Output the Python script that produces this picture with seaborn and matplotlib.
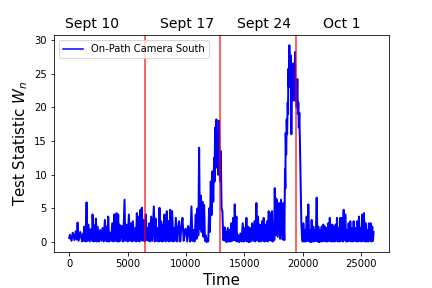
import matplotlib
matplotlib.use("Agg")
import matplotlib.pyplot as plt
import pandas as pd
import seaborn as sns

# ---------------------------------------------
# Data (peaks / troughs)
# ---------------------------------------------
t_a = [0, 60, 200, 300, 450, 550, 650, 715, 800, 950,
       1100, 1200, 1250, 1285, 1400, 1485, 1550, 1650, 1750, 1850,
       1950, 1997, 2100, 2150, 2230, 2283, 2350, 2430, 2550, 2650,
       2750, 2850, 2950, 3052, 3150, 3200, 3280, 3337, 3420, 3500,
       3600, 3680, 3780, 3850, 3950, 4050, 4120, 4190]
w_a = [0.6, 1.1, 0.2, 1.4, 0.3, 1.6, 0.4, 2.9, 0.2, 1.5,
       0.1, 1.3, 0.2, 2.3, 0.1, 5.9, 0.2, 2.6, 0.1, 1.9,
       0.2, 4.1, 0.1, 2.5, 0.2, 3.5, 0.1, 2.3, 0.1, 1.8,
       0.2, 2.1, 0.1, 3.3, 0.2, 2.3, 0.1, 3.8, 0.1, 1.4,
       0.2, 2.8, 0.1, 4.1, 0.2, 4.3, 0.1, 4.1]

t_b = [4250, 4300, 4400, 4500, 4620, 4734, 4800, 4900, 5000, 5105,
       5200, 5300, 5380, 5447, 5550, 5650, 5720, 5789, 5870, 5930,
       6020, 6102, 6160, 6216, 6300, 6400, 6480, 6558, 6620, 6680,
       6780, 6850, 6930, 7014, 7120, 7242, 7330, 7390, 7480, 7580,
       7650, 7727, 7810, 7870, 7960, 8010, 8080, 8154, 8250, 8354,
       8420, 8500, 8570, 8639, 8720, 8810]
w_b = [0.1, 2.6, 0.2, 2.4, 0.1, 6.3, 0.2, 2.6, 0.1, 4.1,
       0.2, 2.8, 0.1, 3.1, 0.2, 2.1, 0.1, 4.3, 0.2, 3.8,
       0.1, 4.8, 0.3, 5.1, 0.2, 3.3, 0.1, 4.1, 0.3, 2.1,
       0.2, 2.8, 0.1, 3.8, 0.2, 5.3, 0.1, 3.5, 0.2, 2.1,
       0.1, 5.1, 0.2, 3.1, 0.1, 2.6, 0.2, 4.1, 0.1, 4.6,
       0.2, 3.1, 0.1, 4.8, 0.2, 4.6]

t_c = [8900, 8950, 9050, 9122, 9250, 9320, 9407, 9500, 9600, 9692,
       9800, 9900, 9977, 10100, 10180, 10262, 10350, 10462, 10550, 10633,
       10720, 10832, 10900, 10975, 11050, 11117, 11180, 11260, 11330, 11402,
       11470, 11545, 11620, 11687, 11760, 11830, 11900, 11972, 12040, 12115,
       12180, 12257, 12330, 12400, 12440, 12485, 12540, 12600, 12640, 12685,
       12750, 12827, 12900, 12970, 13040, 13112, 13180, 13255]
w_c = [0.1, 2.1, 0.2, 3.6, 0.1, 2.0, 3.1, 0.1, 2.2, 3.6,
       0.2, 1.8, 2.0, 0.1, 2.4, 1.6, 0.1, 5.3, 0.2, 1.8,
       0.1, 4.1, 0.5, 5.0, 1.0, 14.0, 2.0, 6.9, 1.5, 6.0,
       0.8, 5.5, 0.2, 1.0, 0.0, 0.5, 0.1, 5.0, 1.5, 9.0,
       4.0, 10.5, 6.0, 12.5, 9.0, 17.0, 11.0, 18.2, 12.0, 16.0,
       10.0, 18.0, 9.0, 13.5, 5.0, 4.6, 0.3, 0.8]

t_d = [13300, 13335, 13370, 13470, 13569, 13650, 13740, 13800, 13854, 13940,
       14025, 14100, 14167, 14240, 14310, 14370, 14424, 14540, 14652, 14750,
       14851, 14940, 15022, 15090, 15165, 15240, 15307, 15380, 15450, 15550,
       15650, 15750, 15849, 15930, 16020, 16090, 16162, 16230, 16305, 16400,
       16504, 16580, 16647, 16720, 16790, 16860, 16932, 17000, 17075, 17150,
       17217, 17290, 17360, 17430, 17502, 17550, 17590, 17650, 17700, 17730]
w_d = [2.2, 0.2, 1.6, 0.0, 2.1, 0.1, 1.8, 0.1, 2.8, 0.2,
       3.6, 0.3, 5.6, 0.2, 3.8, 0.1, 1.1, 0.0, 1.3, 0.1,
       2.8, 0.1, 2.1, 0.2, 3.6, 0.1, 2.3, 0.0, 2.1, 0.1,
       2.8, 0.2, 3.1, 0.1, 5.8, 0.3, 3.8, 0.1, 2.6, 0.1,
       3.1, 0.2, 3.6, 0.1, 2.6, 0.2, 3.1, 0.1, 4.6, 0.3,
       4.3, 0.2, 4.6, 0.1, 2.1, 0.3, 8.0, 1.0, 6.5, 1.2]

t_e = [17758, 17843, 17957, 18043, 18128, 18242, 18328, 18413, 18470, 18500,
       18527, 18570, 18613, 18650, 18698, 18730, 18755, 18800, 18841, 18900,
       18955, 19012, 19069, 19100, 19126, 19183, 19240, 19280, 19325, 19370,
       19411, 19470, 19525, 19570, 19610, 19650, 19696, 19753, 19810, 19867,
       19924, 19980, 20038, 20110, 20180, 20250, 20323, 20400, 20465, 20540,
       20608, 20680, 20750, 20820, 20893, 20960, 21035, 21100, 21178, 21250,
       21320, 21390, 21463, 21530, 21605, 21680, 21748, 21820, 21890, 21960,
       22033, 22100, 22175, 22240]
w_e = [6.3, 0.8, 5.8, 0.5, 6.3, 0.4, 5.8, 0.3, 10.8, 8.0,
       16.2, 13.0, 18.2, 16.0, 20.7, 19.0, 25.7, 23.0, 29.2, 23.0,
       27.7, 16.0, 25.0, 22.0, 26.5, 21.0, 24.7, 22.0, 28.2, 21.0,
       22.7, 20.0, 24.2, 19.0, 20.7, 17.0, 19.2, 14.2, 8.3, 2.8,
       0.8, 0.1, 2.8, 0.1, 1.8, 0.1, 3.8, 0.2, 5.6, 0.1,
       1.8, 0.0, 3.3, 0.1, 2.3, 0.1, 1.8, 0.2, 6.6, 0.1,
       2.3, 0.0, 1.8, 0.1, 2.3, 0.1, 2.6, 0.2, 2.3, 0.1,
       2.1, 0.1, 2.8, 0.2]

t_f = [22300, 22400, 22518, 22570, 22632, 22720, 22803, 22860, 22917, 23000,
       23088, 23150, 23202, 23270, 23345, 23420, 23487, 23560, 23630, 23700,
       23772, 23840, 23915, 23990, 24057, 24130, 24200, 24270, 24342, 24430,
       24513, 24580, 24656, 24730, 24798, 24870, 24941, 25010, 25083, 25150,
       25226, 25300, 25368, 25440, 25511, 25580, 25653, 25720, 25796, 25870,
       25938, 26000, 26050]
w_f = [3.6, 0.1, 2.6, 0.1, 2.3, 0.1, 2.6, 0.2, 3.6, 0.1,
       2.1, 0.1, 3.6, 0.2, 3.6, 0.1, 4.8, 0.3, 4.1, 0.1,
       1.8, 0.1, 2.8, 0.2, 3.1, 0.1, 2.1, 0.1, 3.1, 0.2,
       2.1, 0.1, 3.1, 0.1, 3.8, 0.2, 2.1, 0.1, 4.1, 0.2,
       4.3, 0.1, 2.8, 0.1, 1.8, 0.1, 2.8, 0.2, 2.8, 0.1,
       2.3, 0.2, 1.5]

week_bounds = [6450, 12945, 19440]
week_labels = ["Sept 10", "Sept 17", "Sept 24", "Oct 1"]
week_label_pos = [1940, 10060, 16710, 23360]

time = t_a + t_b + t_c + t_d + t_e + t_f
wn = w_a + w_b + w_c + w_d + w_e + w_f
df = pd.DataFrame({"Time": time, "Wn": wn})

# -----------------------------
# Plot
# -----------------------------
fig, ax = plt.subplots(figsize=(6, 4), dpi=72)
fig.subplots_adjust(left=0.125, right=0.9, bottom=0.125, top=0.877)

sns.lineplot(data=df, x="Time", y="Wn", color="blue", linewidth=2.0,
             estimator=None, sort=False, label="On-Path Camera South", ax=ax)

for b in week_bounds:
    ax.axvline(b, color="red", alpha=0.8, linewidth=1.5)

for pos, lab in zip(week_label_pos, week_labels):
    ax.text(pos, 1.02, lab, transform=ax.get_xaxis_transform(),
            ha="center", va="bottom", fontsize=14)

ax.set_xlabel("Time", fontsize=15)
ax.set_ylabel("Test Statistic $W_n$", fontsize=15)
leg = ax.legend(loc="upper left")
for h in leg.get_lines():
    h.set_linewidth(1.5)

fig.savefig("out.png", dpi=72)
